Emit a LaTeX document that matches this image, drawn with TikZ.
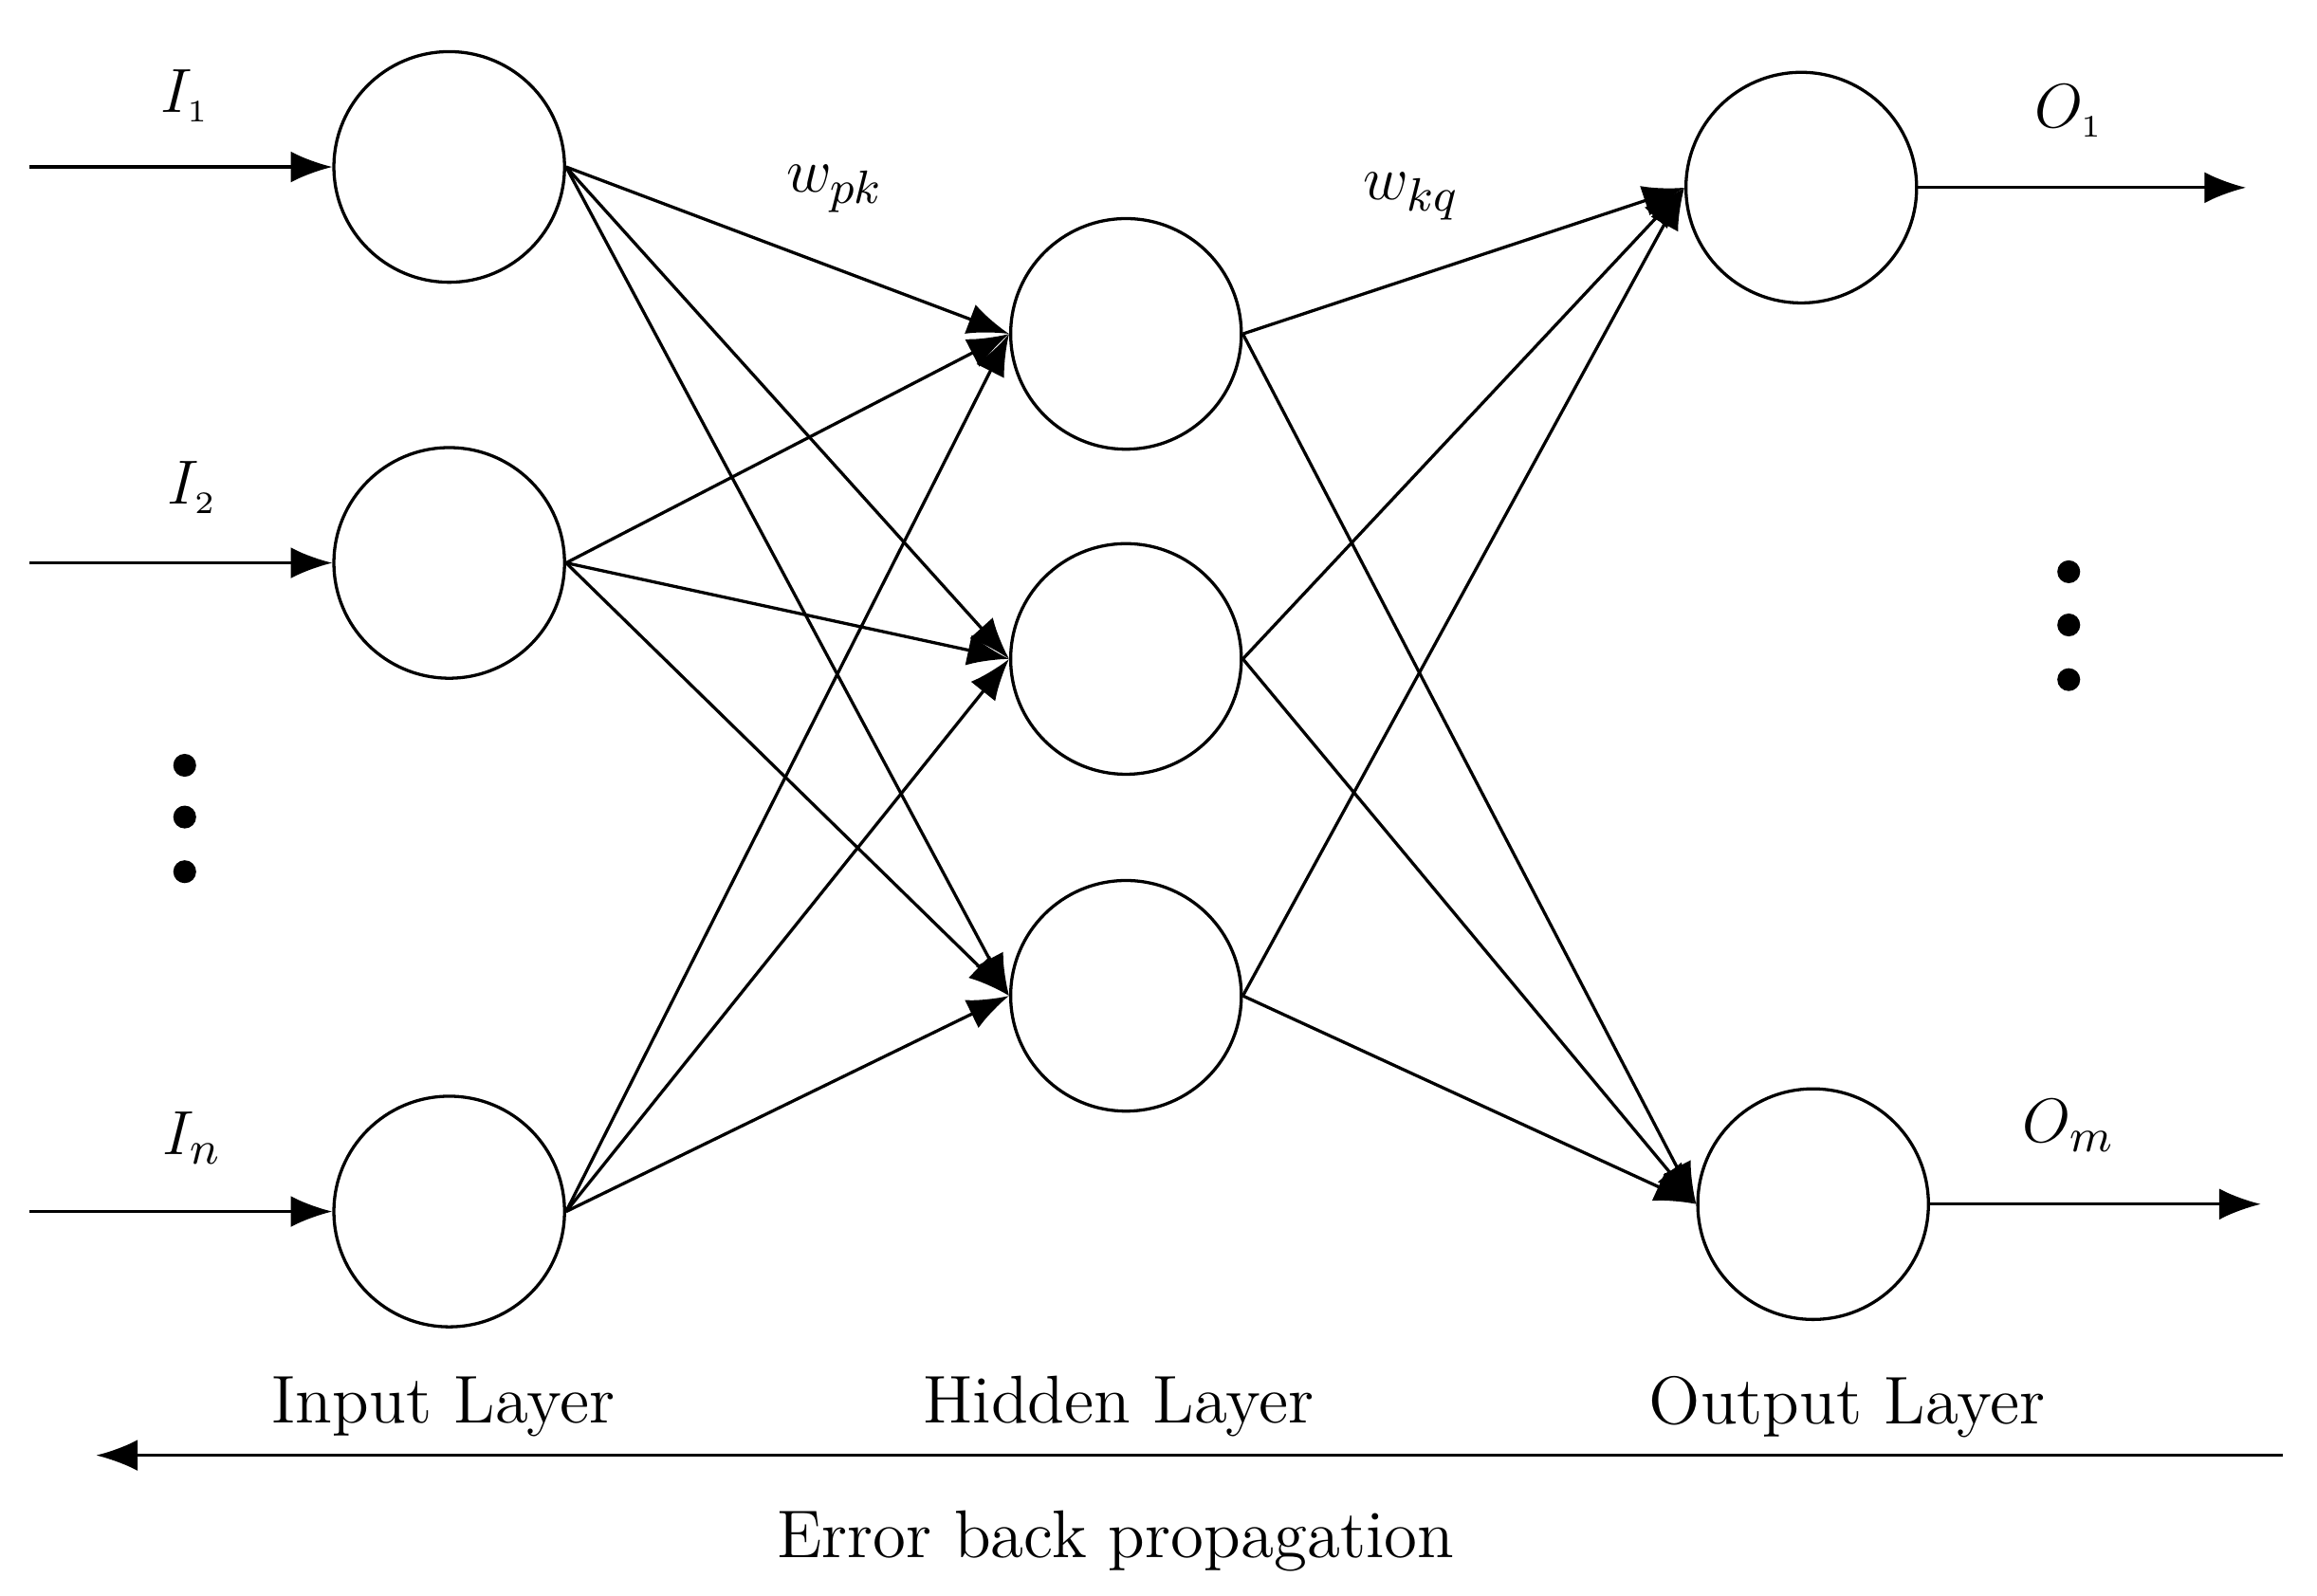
\documentclass[tikz,border=0pt]{standalone}
\usepackage{amsmath}
\usetikzlibrary{arrows.meta}
\begin{document}
\begin{tikzpicture}[x=0.01cm,y=-0.01cm,
  neuron/.style={draw,circle,minimum size=1.56cm,inner sep=0pt,line width=0.6pt},
  link/.style={line width=0.6pt,-{Latex[length=8pt,width=6pt]}},
  lbl/.style={font=\fontsize{13}{15}\selectfont}]
\useasboundingbox (0,0) rectangle (1568,1080);

% input layer
\node[neuron] (i1) at (304,113) {};
\node[neuron] (i2) at (304,381) {};
\node[neuron] (in) at (304,820) {};
% hidden layer
\node[neuron] (h1) at (762,226) {};
\node[neuron] (h2) at (762,446) {};
\node[neuron] (h3) at (762,674) {};
% output layer
\node[neuron] (o1) at (1219,127) {};
\node[neuron] (om) at (1227,815) {};

% free ends
\coordinate (s1) at (20,113);
\coordinate (s2) at (20,381);
\coordinate (sn) at (20,820);
\coordinate (e1) at (1520,127);
\coordinate (em) at (1530,815);
\coordinate (bl) at (65,985);
\coordinate (br) at (1545,985);

\foreach \a/\b in {s1/i1,s2/i2,sn/in,o1/e1,om/em,br/bl}
\draw[link] (\a) -- (\b);

\foreach \p in {i1,i2,in}
\foreach \k in {h1,h2,h3}
\draw[link] (\p.east) -- (\k.west);

\foreach \k in {h1,h2,h3}
\foreach \q in {o1,om}
\draw[link] (\k.east) -- (\q.west);

% dots
\foreach \y in {518,553,590} \fill (125,\y) circle (2.2pt);
\foreach \y in {387,423,460} \fill (1400,\y) circle (2.2pt);

% labels
\node[lbl] (l1) at (125,65) {$I_{\scriptscriptstyle 1}$};
\node[lbl] (l2) at (130,330) {$I_{\scriptscriptstyle 2}$};
\node[lbl] (ln) at (130,770) {$I_n$};
\node[lbl] (lo1) at (1400,75) {$O_{\scriptscriptstyle 1}$};
\node[lbl] (lom) at (1400,762) {$O_m$};
\node[lbl] (wpk) at (565,128) {$w_{pk}$};
\node[lbl] (wkq) at (955,133) {$w_{kq}$};
\node[lbl] (tin) at (300,952) {Input Layer};
\node[lbl] (thid) at (757,952) {Hidden Layer};
\node[lbl] (tout) at (1250,952) {Output Layer};
\node[lbl] (terr) at (755,1043) {Error back propagation};
\end{tikzpicture}
\end{document}
